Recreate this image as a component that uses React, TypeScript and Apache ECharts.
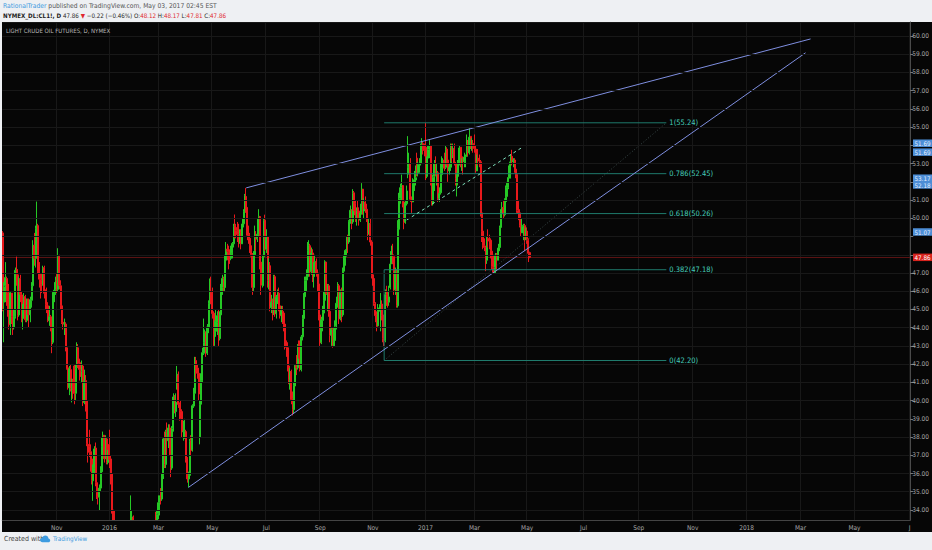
import React, { useEffect, useRef } from "react";
import * as echarts from "echarts";

// ---------- data ----------
// trading sessions start on the first day of the view; holidays of the past period (future bars are plain weekdays)
const FIRST_SESSION = "2015-09-01";
const SESSION_COUNT = 724;
const HOLIDAYS = [
  "2015-09-07", "2015-11-26", "2015-12-25", "2016-01-01", "2016-01-18", "2016-02-15",
  "2016-03-25", "2016-05-30", "2016-07-04", "2016-09-05", "2016-11-24", "2016-12-26",
  "2017-01-02", "2017-01-16", "2017-02-20", "2017-04-14",
];
const MONTHS = ["Jan", "Feb", "Mar", "Apr", "May", "Jun", "Jul", "Aug", "Sep", "Oct", "Nov", "Dec"];

// candles: [open, close, low, high]
const sep15 = [
  [49.2, 45.41, 44.9, 49.3], [45.4, 46.25, 43.2, 46.5], [46.3, 46.75, 45.4, 47.6], [46.7, 46.05, 45.2, 46.8],
  [46.0, 45.94, 44.6, 46.5], [45.9, 44.15, 43.9, 46.4], [44.2, 45.92, 43.6, 46.0], [45.9, 44.63, 44.2, 45.9],
  [44.6, 44.0, 43.6, 44.8], [44.0, 44.59, 43.9, 45.0], [44.6, 47.15, 44.5, 47.3], [47.2, 46.9, 46.3, 47.9],
  [46.9, 44.68, 44.4, 46.9], [44.7, 46.68, 44.6, 46.8], [46.7, 45.83, 45.4, 46.9], [45.8, 44.48, 44.3, 46.0],
  [44.5, 44.91, 43.9, 45.3], [44.9, 45.7, 44.6, 45.9], [45.7, 44.43, 44.3, 45.8], [44.4, 45.23, 44.3, 45.6],
  [45.2, 45.09, 44.7, 45.6],
];
const oct15 = [
  [45.1, 44.74, 44.0, 45.6], [44.7, 45.54, 44.3, 45.7], [45.5, 46.26, 45.1, 46.5], [46.3, 48.53, 46.2, 48.8],
  [48.5, 47.81, 47.4, 49.2], [47.8, 49.43, 47.3, 49.6], [49.4, 49.63, 49.0, 50.92], [49.6, 47.1, 47.0, 49.7],
  [47.1, 46.66, 46.2, 47.6], [46.7, 46.64, 45.6, 47.0], [46.6, 46.38, 45.9, 47.0], [46.4, 47.26, 46.3, 47.4],
  [47.3, 45.89, 45.6, 47.4], [45.9, 45.29, 45.0, 46.1], [45.3, 45.2, 44.8, 46.2], [45.2, 44.38, 44.3, 45.4],
  [44.4, 44.6, 44.1, 45.2], [44.6, 43.98, 43.8, 44.7], [44.0, 43.2, 42.6, 44.1], [43.2, 45.94, 43.1, 46.0],
  [45.9, 46.06, 45.4, 46.5], [46.1, 46.59, 45.8, 46.8],
];
const nov15 = [
  [46.6, 46.14, 45.9, 47.0], [46.1, 47.9, 46.0, 48.36], [47.9, 46.32, 46.1, 48.0], [46.3, 45.2, 45.0, 46.6],
  [45.2, 44.29, 44.2, 45.5], [44.3, 44.21, 43.9, 44.9], [44.2, 44.21, 43.6, 44.5], [44.2, 42.93, 42.7, 44.3],
  [42.9, 41.75, 41.7, 43.3], [41.8, 40.74, 40.6, 42.0], [40.7, 41.74, 40.3, 41.9], [41.7, 40.67, 40.5, 42.0],
  [40.7, 40.75, 39.9, 41.2], [40.8, 40.54, 40.1, 41.2], [41.9, 40.39, 39.8, 42.0], [40.4, 41.75, 40.0, 42.0],
  [41.8, 42.87, 41.6, 43.2], [42.9, 42.04, 41.8, 43.1], [42.0, 41.71, 41.1, 42.3], [41.7, 41.65, 41.3, 42.1],
];
const dec15 = [
  [41.6, 41.85, 41.0, 42.2], [41.9, 39.94, 39.7, 42.0], [39.9, 41.08, 39.8, 41.7], [41.1, 39.97, 39.4, 41.4],
  [40.0, 37.65, 37.5, 40.0], [37.6, 37.51, 36.6, 38.0], [37.5, 37.16, 36.9, 38.4], [37.2, 36.76, 36.1, 37.6],
  [36.8, 35.62, 35.4, 36.9], [35.6, 36.31, 34.5, 36.5], [36.3, 37.35, 36.0, 37.5], [37.4, 35.52, 35.3, 37.7],
  [35.5, 34.95, 34.6, 35.6], [35.0, 34.73, 34.3, 35.3], [34.7, 35.2, 33.98, 35.4], [35.2, 36.14, 35.0, 36.4],
  [36.1, 37.5, 36.0, 38.0], [37.5, 38.1, 37.4, 38.3], [38.1, 36.81, 36.6, 38.1], [36.8, 37.87, 36.8, 38.1],
  [37.9, 36.6, 36.5, 38.0], [36.6, 37.04, 36.5, 37.3],
];
const jan16 = [
  [37.6, 36.76, 36.3, 38.4], [36.8, 35.97, 35.4, 37.0], [36.0, 33.97, 33.8, 36.0], [34.0, 33.27, 32.1, 34.0],
  [33.3, 32.88, 32.6, 34.0], [32.9, 31.41, 31.1, 33.0], [31.4, 30.44, 29.9, 31.8], [30.4, 30.48, 29.9, 31.2],
  [30.5, 31.2, 30.3, 31.4], [31.2, 29.42, 29.1, 31.2], [29.4, 28.46, 27.6, 29.6], [28.5, 26.55, 26.2, 28.6],
  [28.4, 29.53, 28.3, 29.9], [29.5, 32.19, 29.5, 32.3], [32.2, 30.34, 30.2, 32.3], [30.3, 31.45, 29.3, 31.7],
  [31.5, 32.3, 30.6, 32.6], [32.3, 33.22, 31.6, 34.8], [33.2, 33.62, 32.4, 34.0],
];
const feb16 = [
  [33.6, 31.62, 31.3, 33.7], [31.6, 29.88, 29.6, 31.7], [29.9, 32.28, 29.3, 32.5], [32.3, 31.72, 31.1, 33.0],
  [31.7, 30.89, 30.6, 32.0], [30.9, 29.69, 28.9, 31.2], [29.7, 27.94, 27.7, 30.0], [27.9, 27.45, 27.1, 28.8],
  [27.5, 26.21, 26.05, 27.6], [26.2, 29.44, 26.2, 29.5], [29.4, 29.04, 28.5, 31.5], [29.0, 30.66, 28.6, 30.9],
  [30.7, 30.77, 30.3, 31.5], [30.8, 29.64, 29.3, 31.0], [31.0, 31.48, 30.9, 32.1], [31.5, 31.87, 31.3, 32.3],
  [31.9, 32.15, 30.6, 32.3], [32.1, 33.07, 31.9, 33.3], [33.1, 32.78, 32.6, 33.9], [32.8, 33.75, 32.6, 34.0],
];
const mar16 = [
  [33.8, 34.4, 33.5, 34.8], [34.4, 34.66, 33.7, 34.8], [34.7, 34.57, 34.3, 35.2], [34.6, 35.92, 34.5, 36.0],
  [35.9, 37.9, 35.7, 38.0], [37.9, 36.5, 36.3, 38.3], [36.5, 38.29, 36.3, 38.4], [38.3, 37.84, 37.0, 38.8],
  [37.8, 38.5, 37.4, 38.7], [38.5, 37.18, 37.0, 38.7], [37.2, 36.34, 35.8, 37.4], [36.3, 38.46, 36.2, 38.6],
  [38.5, 40.2, 38.3, 40.4], [40.2, 39.44, 39.3, 40.3], [39.4, 39.91, 39.1, 40.4], [40.8, 41.45, 40.6, 41.9],
  [41.4, 39.79, 39.6, 41.6], [39.8, 39.46, 38.9, 39.9], [39.5, 39.39, 39.0, 40.0], [39.4, 38.28, 38.0, 39.5],
  [38.3, 38.32, 37.8, 38.9], [38.3, 38.34, 37.9, 39.0],
];
const apr16 = [
  [38.3, 36.79, 36.6, 38.4], [36.8, 35.7, 35.5, 36.9], [35.7, 35.89, 35.24, 36.1], [35.9, 37.75, 35.8, 37.9],
  [37.8, 37.26, 37.0, 38.1], [37.3, 39.72, 37.2, 39.8], [39.7, 40.36, 39.6, 40.7], [40.4, 42.17, 40.2, 42.4],
  [42.2, 41.76, 41.2, 42.4], [41.8, 41.5, 41.2, 42.0], [41.5, 40.36, 40.0, 41.8], [38.0, 39.78, 37.6, 40.0],
  [39.8, 41.08, 39.6, 41.5], [41.1, 42.63, 41.0, 42.9], [42.6, 43.18, 42.5, 44.5], [43.2, 43.73, 43.0, 43.9],
  [43.7, 42.64, 42.4, 43.8], [42.6, 44.04, 42.5, 44.2], [44.0, 45.33, 43.7, 45.5], [45.3, 46.03, 44.8, 46.7],
  [46.0, 45.92, 45.3, 46.8],
];
const may16 = [
  [45.9, 44.78, 44.5, 46.2], [44.8, 43.65, 43.0, 44.9], [43.7, 43.78, 43.0, 44.4], [43.8, 44.32, 43.5, 45.0],
  [44.3, 44.66, 43.6, 44.9], [44.7, 43.44, 43.0, 45.0], [43.4, 44.66, 43.3, 44.9], [44.7, 46.23, 44.5, 46.4],
  [46.2, 46.7, 45.8, 46.9], [46.7, 46.21, 46.0, 46.8], [46.2, 47.72, 46.0, 48.0], [47.7, 48.31, 47.4, 48.7],
  [48.3, 48.19, 47.7, 48.6], [48.2, 48.12, 47.2, 48.5], [48.1, 47.75, 47.5, 48.3], [47.8, 48.08, 47.7, 48.5],
  [48.1, 48.62, 47.8, 48.7], [48.6, 49.56, 48.4, 49.7], [49.6, 49.48, 48.9, 50.21], [49.5, 49.33, 48.9, 49.7],
  [49.3, 49.1, 48.7, 49.8],
];
const jun16 = [
  [49.1, 49.01, 48.4, 49.7], [49.0, 49.17, 48.6, 49.4], [49.2, 48.62, 48.3, 49.4], [48.6, 49.69, 48.6, 50.0],
  [49.7, 50.36, 49.5, 50.5], [50.4, 51.23, 50.2, 51.34], [51.2, 50.56, 50.3, 51.67], [50.6, 49.07, 48.8, 50.6],
  [49.1, 48.88, 48.6, 49.6], [48.9, 48.49, 48.1, 49.2], [48.5, 48.01, 47.9, 48.9], [48.0, 46.21, 45.8, 48.1],
  [46.2, 47.98, 46.0, 48.2], [48.0, 48.96, 47.9, 49.6], [49.0, 48.85, 48.2, 49.3], [48.9, 49.13, 48.7, 50.0],
  [49.1, 50.11, 49.0, 50.5], [50.1, 47.64, 47.2, 50.1], [47.6, 46.33, 45.8, 47.8], [46.3, 47.85, 46.2, 48.0],
  [47.9, 49.88, 47.8, 50.0], [49.9, 48.33, 48.2, 50.2],
];
const jul16 = [
  [48.3, 48.99, 48.1, 49.4], [49.0, 46.6, 46.2, 49.0], [46.6, 47.43, 46.1, 47.8], [47.4, 45.14, 44.9, 47.6],
  [45.1, 45.41, 44.8, 45.8], [45.4, 44.76, 44.4, 45.6], [44.8, 46.8, 44.7, 46.9], [46.8, 44.75, 44.6, 46.9],
  [44.8, 45.68, 44.5, 45.8], [45.7, 45.95, 45.3, 46.1], [45.9, 45.24, 44.9, 46.2], [45.2, 44.65, 44.5, 45.5],
  [44.7, 44.94, 44.3, 45.2], [44.9, 44.75, 44.2, 45.2], [44.8, 44.19, 43.8, 44.8], [44.2, 42.98, 42.8, 44.2],
  [43.0, 42.92, 42.4, 43.3], [42.9, 41.92, 41.6, 43.2], [41.9, 41.14, 40.9, 42.0], [41.1, 41.6, 40.6, 41.8],
];
const aug16 = [
  [41.6, 40.06, 39.8, 41.7], [40.1, 39.51, 39.19, 40.5], [39.5, 40.83, 39.3, 41.0], [40.8, 41.93, 40.7, 42.0],
  [41.9, 41.8, 41.4, 42.5], [41.8, 43.02, 41.7, 43.1], [43.0, 42.77, 42.3, 43.3], [42.8, 41.71, 41.6, 43.3],
  [41.7, 43.49, 41.6, 43.6], [43.5, 44.49, 43.3, 44.7], [44.5, 45.74, 44.4, 45.9], [45.7, 46.58, 45.5, 46.8],
  [46.6, 46.79, 46.0, 47.2], [46.8, 48.22, 46.6, 48.7], [48.2, 48.52, 47.9, 48.8], [48.5, 47.05, 46.8, 48.6],
  [47.1, 48.1, 46.9, 48.4], [48.1, 46.77, 46.5, 48.3], [46.8, 47.33, 46.2, 47.6], [47.3, 47.64, 46.9, 48.0],
  [47.6, 46.98, 46.8, 47.8], [47.0, 46.35, 46.0, 47.2], [46.4, 44.7, 44.4, 46.5],
];
const sep16 = [
  [44.7, 43.16, 43.0, 44.8], [43.2, 44.44, 43.1, 44.6], [44.4, 44.83, 43.8, 45.2], [44.8, 45.5, 44.6, 46.0],
  [45.5, 47.62, 45.3, 47.7], [47.6, 45.88, 45.8, 47.6], [45.9, 46.29, 44.9, 46.4], [46.3, 44.9, 44.6, 46.4],
  [44.9, 43.58, 43.2, 45.1], [43.6, 43.91, 43.0, 44.0], [43.9, 43.03, 42.9, 44.0], [43.0, 43.3, 43.0, 44.0],
  [43.3, 44.05, 43.0, 44.4], [44.1, 45.34, 43.9, 45.7], [45.3, 46.32, 45.1, 46.5], [46.3, 44.48, 44.2, 46.4],
  [44.5, 45.93, 44.4, 46.1], [45.9, 44.67, 44.3, 46.2], [44.7, 47.05, 44.6, 47.3], [47.1, 47.83, 46.7, 48.0],
  [47.8, 48.24, 47.4, 48.3],
];
const oct16 = [
  [48.2, 48.81, 47.9, 49.0], [48.8, 48.69, 48.1, 49.1], [48.7, 49.83, 48.6, 49.9], [49.8, 50.44, 49.7, 50.7],
  [50.4, 49.81, 49.4, 50.5], [49.8, 51.35, 49.7, 51.6], [51.4, 50.79, 50.4, 51.5], [50.8, 50.18, 49.8, 51.0],
  [50.2, 50.44, 49.6, 50.6], [50.4, 50.35, 50.0, 51.0], [50.4, 49.94, 49.6, 50.6], [49.9, 50.29, 49.8, 50.8],
  [50.3, 51.6, 50.2, 51.93], [51.6, 50.43, 50.2, 51.6], [50.4, 50.85, 50.0, 51.1], [50.9, 50.52, 50.3, 51.2],
  [50.5, 49.96, 49.8, 50.8], [50.0, 49.18, 48.8, 50.0], [49.2, 49.72, 49.1, 50.0], [49.7, 48.7, 48.5, 50.0],
  [48.7, 46.86, 46.7, 48.8],
];
const nov16 = [
  [46.9, 46.67, 46.3, 47.5], [46.7, 45.34, 45.2, 46.9], [45.3, 44.66, 44.3, 45.4], [44.7, 44.07, 43.8, 44.9],
  [44.1, 44.89, 44.2, 45.3], [44.9, 44.98, 44.4, 45.1], [45.0, 45.27, 43.8, 45.9], [45.3, 44.66, 44.4, 45.5],
  [44.7, 43.41, 43.2, 44.8], [43.4, 43.32, 42.95, 43.9], [43.3, 45.81, 43.2, 46.1], [45.8, 45.57, 45.2, 46.3],
  [45.6, 45.42, 45.1, 46.0], [45.4, 45.69, 45.2, 46.3], [46.2, 47.49, 46.1, 48.2], [47.5, 48.03, 47.5, 48.5],
  [48.0, 47.96, 47.5, 48.6], [47.9, 46.06, 45.8, 47.9], [46.1, 47.08, 45.8, 47.3], [47.1, 45.23, 45.1, 47.2],
  [45.2, 49.44, 45.1, 49.9],
];
const dec16 = [
  [49.4, 51.06, 49.3, 51.4], [51.1, 51.68, 50.8, 51.9], [51.7, 51.79, 51.0, 52.4], [51.8, 50.93, 50.6, 51.8],
  [50.9, 49.77, 49.4, 51.0], [49.8, 50.84, 49.7, 51.0], [50.8, 51.5, 50.7, 51.8], [52.8, 52.83, 52.2, 54.51],
  [52.8, 52.98, 52.4, 53.6], [53.0, 51.04, 50.9, 53.3], [51.0, 50.9, 50.3, 51.2], [50.9, 51.9, 50.9, 52.2],
  [51.9, 52.12, 51.5, 52.6], [52.1, 52.23, 51.8, 52.9], [53.3, 52.49, 52.3, 53.6], [52.5, 52.95, 52.3, 53.1],
  [53.0, 53.02, 52.5, 53.3], [53.0, 53.9, 52.9, 54.1], [53.9, 54.06, 53.7, 54.4], [54.1, 53.77, 53.5, 54.2],
  [53.8, 53.72, 53.4, 54.1],
];
const jan17 = [
  [53.9, 52.33, 52.1, 55.24], [52.3, 53.26, 52.2, 53.4], [53.3, 53.76, 52.9, 54.0], [53.8, 53.99, 53.3, 54.3],
  [54.0, 51.96, 51.8, 54.0], [52.0, 50.82, 50.7, 52.1], [50.8, 52.25, 50.7, 52.4], [52.3, 53.01, 51.5, 53.2],
  [53.0, 52.37, 52.3, 53.4], [52.4, 52.48, 51.8, 53.0], [52.5, 51.08, 50.9, 52.6], [51.1, 51.37, 50.9, 51.7],
  [51.4, 52.42, 51.3, 53.0], [52.4, 52.75, 52.2, 53.4], [52.8, 53.18, 52.5, 53.3], [53.2, 52.75, 52.6, 53.6],
  [52.8, 53.78, 52.7, 54.0], [53.8, 53.17, 52.9, 53.9], [53.2, 52.63, 52.0, 53.2], [52.6, 52.81, 52.4, 53.0],
];
const feb17 = [
  [52.8, 53.88, 52.6, 54.1], [53.9, 53.54, 53.1, 54.1], [53.5, 53.83, 53.3, 54.1], [53.8, 53.01, 52.9, 54.1],
  [53.0, 52.17, 51.8, 53.1], [52.2, 52.34, 51.2, 52.5], [52.3, 53.0, 51.8, 53.2], [53.0, 53.86, 52.9, 54.0],
  [53.9, 52.93, 52.8, 53.9], [52.9, 53.2, 52.6, 53.3], [53.2, 53.11, 52.4, 53.4], [53.1, 53.36, 52.8, 53.6],
  [53.4, 53.4, 52.8, 53.5], [53.4, 54.06, 53.4, 54.6], [54.1, 53.59, 53.4, 54.3], [53.6, 54.45, 53.5, 54.94],
  [54.5, 53.99, 53.8, 54.5], [54.0, 54.05, 53.7, 54.4], [54.1, 54.01, 53.6, 54.3],
];
const mar17 = [
  [54.0, 53.83, 53.6, 54.6], [53.8, 52.61, 52.5, 54.0], [52.6, 53.33, 52.6, 53.5], [53.3, 53.2, 52.9, 53.8],
  [53.2, 53.14, 52.8, 53.5], [53.1, 50.28, 50.1, 53.2], [50.3, 49.28, 48.7, 50.3], [49.3, 48.49, 48.3, 49.6],
  [48.5, 48.4, 48.2, 48.9], [48.4, 47.72, 47.1, 48.5], [47.7, 48.86, 47.5, 49.0], [48.9, 48.75, 48.4, 49.4],
  [48.8, 48.78, 48.3, 49.1], [48.8, 48.22, 47.8, 48.9], [48.2, 47.34, 47.2, 48.4], [47.3, 47.04, 47.0, 48.0],
  [47.0, 47.7, 47.0, 48.0], [47.7, 47.97, 47.3, 48.1], [48.0, 47.73, 47.1, 48.1], [47.7, 48.37, 47.7, 48.6],
  [48.4, 49.51, 48.2, 49.6], [49.5, 50.35, 49.3, 50.5], [50.4, 50.6, 50.0, 50.9],
];
const apr17 = [
  [50.6, 50.24, 50.0, 51.0], [50.2, 51.03, 50.1, 51.1], [51.0, 51.15, 50.7, 51.8], [51.2, 51.7, 50.9, 52.0],
  [51.7, 52.24, 51.6, 52.9], [52.2, 53.08, 52.2, 53.1], [53.1, 53.4, 52.6, 53.5], [53.4, 53.11, 52.9, 53.76],
  [53.1, 53.18, 52.8, 53.3], [53.2, 52.65, 52.5, 53.3], [52.7, 52.41, 52.2, 52.9], [52.4, 50.44, 50.3, 52.6],
  [50.4, 50.27, 49.9, 51.0], [50.3, 49.62, 49.5, 50.5], [49.6, 49.23, 49.0, 49.9], [49.2, 49.56, 49.2, 50.0],
  [49.6, 49.62, 48.8, 49.7], [49.6, 48.97, 48.2, 49.7], [49.0, 49.33, 48.8, 49.5],
];
const may17 = [
  [49.3, 48.84, 48.6, 49.5], [48.8, 48.08, 47.6, 48.9], [48.12, 47.86, 47.81, 48.17],
];

const LAST_CLOSE = 47.86;

// drawings: [session index, price]
const upperTrend = [[194, 51.67], [644, 59.84]];
const lowerTrend = [[148, 35.24], [640, 59.08]];
const wedgeSupport = [[322, 49.91], [415, 53.93]];
const fibStart = 304;
const fibEnd = 529;
const fibRatios = ["1", "0.786", "0.618", "0.382", "0"];
const fibPrices = [55.24, 52.45, 50.26, 47.18, 42.2];

// right-scale drawing tags: [label, anchor price]
const axisTags = [["51.69", 54.12], ["51.69", 53.63], ["53.17", 52.2], ["52.18", 51.83], ["51.07", 49.25]];
// scale ticks hidden beneath those tags
const coveredTicks = [54, 52, 49, 48];

// ---------- helpers ----------
const FONT = "'Liberation Sans Narrow', 'DejaVu Sans Condensed', 'Open Sans', sans-serif";
const BG = "#eef0f3";
const PANEL = "#060606";

function buildSessions(): string[] {
  const out: string[] = [];
  const [y, m, d] = FIRST_SESSION.split("-").map(Number);
  const day = new Date(Date.UTC(y, m - 1, d));
  while (out.length < SESSION_COUNT) {
    const wd = day.getUTCDay();
    const s = day.toISOString().slice(0, 10);
    if (wd !== 0 && wd !== 6 && HOLIDAYS.indexOf(s) < 0) out.push(s);
    day.setUTCDate(day.getUTCDate() + 1);
  }
  return out;
}

const CLOUD_D =
  "M3 8 C1.2 8 0 6.7 0 5.3 C0 3.9 1.1 2.9 2.4 2.9 C2.9 1.2 4.4 0 6.2 0 C8.3 0 9.8 1.5 10 3.4 C11.2 3.6 12 4.6 12 5.8 C12 7.1 11 8 9.8 8 Z";

export default function App() {
  const ref = useRef<HTMLDivElement>(null);

  useEffect(() => {
    if (!ref.current) return;
    try {
      echarts.graphic.registerShape("tvcloud", echarts.graphic.extendPath(CLOUD_D, {}) as any);
    } catch (e) {}
    const chart = echarts.init(ref.current, undefined, { renderer: "svg" });

    const sessions = buildSessions();
    const labelIdx = new Set<number>();
    for (let i = 1; i < sessions.length; i++) {
      const m = Number(sessions[i].slice(5, 7)) - 1;
      const pm = Number(sessions[i - 1].slice(5, 7)) - 1;
      if (m !== pm && m % 2 === 0) labelIdx.add(i);
    }
    const candles = [
      ...sep15, ...oct15, ...nov15, ...dec15, ...jan16, ...feb16, ...mar16, ...apr16, ...may16,
      ...jun16, ...jul16, ...aug16, ...sep16, ...oct16, ...nov16, ...dec16, ...jan17, ...feb17,
      ...mar17, ...apr17, ...may17,
    ];

    const trendStyle = { color: "#7f8fe0", width: 1 };
    const fibSeries = fibPrices.map((p, k) => ({
      type: "line",
      data: [[fibStart, p], [fibEnd, p]],
      symbol: "none",
      silent: true,
      z: 4,
      lineStyle: { color: "#1f7a6c", width: 1 },
      endLabel: {
        show: true,
        formatter: `${fibRatios[k]}(${p.toFixed(2)})`,
        color: "#45cdb9",
        fontSize: 7.5,
        fontFamily: FONT,
        distance: 3,
      },
    }));

    const labelFmt = (v: string) => {
      const m = Number(v.slice(5, 7)) - 1;
      if (v >= "2018-06-01") return MONTHS[m].slice(0, 1);
      return m === 0 ? v.slice(0, 4) : MONTHS[m];
    };

    const option: any = {
      animation: false,
      backgroundColor: BG,
      grid: { left: 2.27, top: 22, width: 910.4, height: 498 },
      xAxis: [
        {
          type: "category",
          data: sessions,
          boundaryGap: true,
          z: 0,
          axisLine: { show: false },
          axisTick: { show: false },
          axisLabel: { show: false },
          splitLine: { show: true, interval: (i: number) => labelIdx.has(i), lineStyle: { color: "#181818", width: 1 } },
        },
        {
          type: "category",
          data: sessions,
          boundaryGap: true,
          position: "bottom",
          z: 10,
          axisLine: { show: true, lineStyle: { color: "#444" } },
          axisTick: { show: false },
          axisLabel: {
            interval: (i: number) => labelIdx.has(i),
            formatter: labelFmt,
            color: "#a6a6a6",
            fontSize: 6.5,
            fontFamily: FONT,
            margin: 4,
          },
          splitLine: { show: false },
        },
      ],
      yAxis: {
        type: "value",
        position: "right",
        min: 33.45,
        max: 60.77,
        minInterval: 1,
        maxInterval: 1,
        splitNumber: 27,
        z: 10,
        axisLine: { show: true, lineStyle: { color: "#4a4a4a" } },
        axisTick: { show: true, length: 3, lineStyle: { color: "#777" } },
        axisLabel: {
          showMinLabel: false,
          showMaxLabel: false,
          formatter: (v: number) => (coveredTicks.indexOf(Math.round(v)) >= 0 ? "" : v.toFixed(2)),
          color: "#a6a6a6",
          fontSize: 6.5,
          fontFamily: FONT,
          margin: 2,
        },
        splitLine: { show: true, lineStyle: { color: "#181818", width: 1 } },
      },
      series: [
        {
          type: "candlestick",
          data: candles,
          barWidth: 1.5,
          clip: true,
          z: 3,
          itemStyle: {
            color: "#25c825",
            color0: "#e8191c",
            borderColor: "#25c825",
            borderColor0: "#e8191c",
            borderWidth: 1,
          },
          markLine: {
            symbol: ["none", "none"],
            silent: true,
            label: { show: false },
            lineStyle: { color: "#5a1212", width: 1, type: "solid" },
            data: [{ yAxis: LAST_CLOSE }],
            z: 1,
          },
        },
        { type: "line", data: upperTrend, symbol: "none", silent: true, z: 5, lineStyle: trendStyle },
        { type: "line", data: lowerTrend, symbol: "none", silent: true, z: 5, lineStyle: trendStyle },
        {
          type: "line",
          data: wedgeSupport,
          symbol: "none",
          silent: true,
          z: 5,
          lineStyle: { color: "#7fe0bc", width: 1, type: [3, 3] },
        },
        {
          type: "line",
          data: [[fibStart, fibPrices[4]], [fibEnd, fibPrices[0]]],
          symbol: "none",
          silent: true,
          z: 4,
          lineStyle: { color: "#3b4a4a", width: 1, type: [1, 2] },
        },
        {
          type: "line",
          data: [[fibStart, fibPrices[4]], [fibStart, fibPrices[3]]],
          symbol: "none",
          silent: true,
          z: 4,
          lineStyle: { color: "#1f7a6c", width: 1 },
        },
        ...fibSeries,
      ],
    };
    chart.setOption(option);

    const yOf = (p: number) => chart.convertToPixel({ yAxisIndex: 0 }, p) as number;
    const tag = (t: string, p: number, fill: string, color: string) => ({
      type: "group",
      x: 913,
      y: yOf(p) - 3.75,
      z: 50,
      children: [
        { type: "rect", shape: { x: 0, y: 0, width: 19, height: 7.5 }, style: { fill } },
        {
          type: "text",
          x: 9.5,
          y: 3.9,
          style: { text: t, fill: color, fontSize: 6.3, fontFamily: FONT, align: "center", verticalAlign: "middle" },
        },
      ],
    });
    const tagEls: any[] = axisTags.map(([t, p]) => tag(t as string, p as number, "#4d8ed6", "#e6efff"));
    tagEls.push(tag(LAST_CLOSE.toFixed(2), LAST_CLOSE, "#d8231d", "#ffffff"));

    chart.setOption({
      graphic: [
        { type: "rect", z: -10, shape: { x: 2, y: 22, width: 930, height: 510 }, style: { fill: PANEL } },
        // covers: price bars below the scale stop at the time strip
        { type: "rect", z: 8, shape: { x: 2, y: 520.5, width: 930, height: 11.5 }, style: { fill: PANEL } },
        { type: "rect", z: 8, shape: { x: 0, y: 532, width: 932, height: 18 }, style: { fill: BG } },
        {
          type: "text",
          x: 3,
          y: 2.5,
          z: 50,
          style: {
            text: "{a|RationalTrader}{b| published on TradingView.com, May 03, 2017 02:45 EST}",
            fontSize: 6.7,
            fontFamily: FONT,
            rich: {
              a: { fill: "#3d9be0", fontSize: 6.7, fontFamily: FONT },
              b: { fill: "#555555", fontSize: 6.7, fontFamily: FONT },
            },
          },
        },
        {
          type: "text",
          x: 3,
          y: 12.5,
          z: 50,
          style: {
            text:
              "{k|NYMEX_DL:CL1!, D} {n|47.86} {r|▼} {n|−0.22 (−0.46%)} {n|O:}{r|48.12} {n|H:}{r|48.17} {n|L:}{r|47.81} {n|C:}{r|47.86}",
            fontSize: 6.2,
            fontFamily: FONT,
            rich: {
              k: { fill: "#1e1e1e", fontSize: 6.2, fontWeight: "bold", fontFamily: FONT },
              n: { fill: "#262626", fontSize: 6.2, fontFamily: FONT },
              r: { fill: "#e0262d", fontSize: 6.2, fontFamily: FONT },
            },
          },
        },
        {
          type: "text",
          x: 6,
          y: 27.5,
          z: 50,
          style: { text: "LIGHT CRUDE OIL FUTURES, D, NYMEX", fill: "#b8b8b8", fontSize: 6, fontFamily: FONT },
        },
        {
          type: "text",
          x: 4,
          y: 535,
          z: 50,
          style: { text: "Created with", fill: "#444444", fontSize: 7, fontFamily: FONT },
        },
        { type: "tvcloud", x: 40, y: 535.5, scaleX: 0.85, scaleY: 0.85, z: 50, style: { fill: "#3d9be0" } },
        {
          type: "text",
          x: 53,
          y: 535,
          z: 50,
          style: { text: "TradingView", fill: "#3d9be0", fontSize: 6.3, fontFamily: FONT },
        },
        ...tagEls,
      ],
    });

    return () => chart.dispose();
  }, []);

  return <div ref={ref} style={{ position: "fixed", left: 0, top: 0, width: 932, height: 550 }} />;
}
